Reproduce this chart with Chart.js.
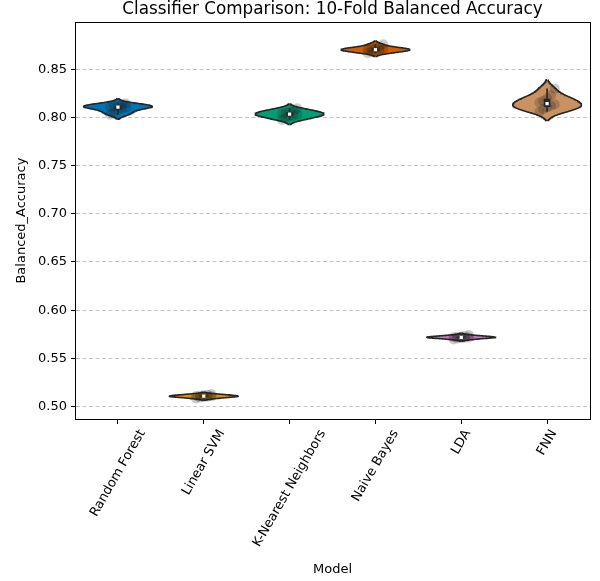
<!DOCTYPE html>
<html><head><meta charset="utf-8">
<script src="https://cdn.jsdelivr.net/npm/chart.js@4"></script>
<style>html,body{margin:0;padding:0;background:#fff}canvas{display:block}</style>
</head><body>
<canvas id="c" width="600" height="581"></canvas>
<script>
// ---- data ----
const models = ['Random Forest','Linear SVM','K-Nearest Neighbors','Naive Bayes','LDA','FNN'];
const colors = ['#0173B2','#DE8F05','#029E73','#D55E00','#CC78BC','#CA9161'];
const rfScores  = [0.8030,0.8050,0.8075,0.8095,0.8105,0.8112,0.8118,0.8123,0.8130,0.8148];
const svmScores = [0.5082,0.5092,0.5098,0.5102,0.5105,0.5108,0.5112,0.5117,0.5122,0.5130];
const knnScores = [0.7975,0.7995,0.8010,0.8022,0.8030,0.8040,0.8050,0.8060,0.8072,0.8095];
const nbScores  = [0.8668,0.8680,0.8690,0.8697,0.8703,0.8708,0.8714,0.8722,0.8732,0.8760];
const ldaScores = [0.5695,0.5705,0.5710,0.5714,0.5717,0.5720,0.5723,0.5727,0.5732,0.5742];
const fnnScores = [0.8060,0.8085,0.8105,0.8120,0.8135,0.8155,0.8175,0.8200,0.8230,0.8300];
const yTicks = [0.50,0.55,0.60,0.65,0.70,0.75,0.80,0.85];
const allScores = [rfScores,svmScores,knnScores,nbScores,ldaScores,fnnScores];

// ---- stats helpers ----
function kde(vals){
  const n=vals.length, mean=vals.reduce((a,b)=>a+b,0)/n;
  const sd=Math.sqrt(vals.reduce((a,b)=>a+(b-mean)**2,0)/(n-1));
  const bw=sd*Math.pow(n,-0.2);
  const lo=Math.min(...vals)-2*bw, hi=Math.max(...vals)+2*bw;
  const G=100, ys=[], ds=[];
  for(let g=0;g<G;g++){
    const y=lo+(hi-lo)*g/(G-1); let d=0;
    for(const v of vals) d+=Math.exp(-0.5*((y-v)/bw)**2);
    ys.push(y); ds.push(d);
  }
  return {ys,ds};
}
function quant(sorted,p){
  const idx=(sorted.length-1)*p, lo=Math.floor(idx), hi=Math.ceil(idx);
  return sorted[lo]+(sorted[hi]-sorted[lo])*(idx-lo);
}

const edge='#262626';
const datasets=[];
const halfW=0.4;
allScores.forEach((vals,i)=>{
  const {ys,ds}=kde(vals);
  const dmax=Math.max(...ds);
  const left=[{x:i,y:ys[0]}], right=[{x:i,y:ys[0]}];
  ys.forEach((y,g)=>{ left.push({x:i-halfW*ds[g]/dmax,y}); right.push({x:i+halfW*ds[g]/dmax,y}); });
  left.push({x:i,y:ys[ys.length-1]}); right.push({x:i,y:ys[ys.length-1]});
  datasets.push({data:left,borderColor:edge,borderWidth:1.6,pointRadius:0,fill:false,order:5,tension:0});
  datasets.push({data:right,borderColor:edge,borderWidth:1.6,pointRadius:0,fill:'-1',backgroundColor:colors[i],order:5,tension:0});
});
allScores.forEach((vals,i)=>{
  const s=[...vals].sort((a,b)=>a-b);
  const q1=quant(s,0.25), q3=quant(s,0.75), med=quant(s,0.5), iqr=q3-q1;
  const wlo=Math.min(...s.filter(v=>v>=q1-1.5*iqr)), whi=Math.max(...s.filter(v=>v<=q3+1.5*iqr));
  datasets.push({data:s.map((v,k)=>({x:i+((k%5)-2)*0.045,y:v})).sort((a,b)=>a.y-b.y),showLine:false,pointRadius:5,pointBorderWidth:0,pointBackgroundColor:'rgba(30,30,30,0.22)',order:4});
  datasets.push({data:[{x:i,y:wlo},{x:i,y:whi}],borderColor:edge,borderWidth:1.6,pointRadius:0,order:3});
  datasets.push({data:[{x:i,y:q1},{x:i,y:q3}],borderColor:edge,borderWidth:6.5,pointRadius:0,order:2,borderCapStyle:'butt'});
  datasets.push({data:[{x:i,y:med}],showLine:false,pointStyle:'rect',pointRadius:2.3,pointBorderWidth:0,pointBackgroundColor:'#ffffff',order:1});
});

const framePlugin={id:'frame',
  beforeDraw(chart){
    // centre the rotated x tick labels under their ticks (like ha='center')
    const sc=chart.scales.x, ctx=chart.ctx;
    const items=sc.getLabelItems();
    items.forEach(it=>{
      if(it._shifted) return;
      ctx.save(); ctx.font=it.font.string; const w=ctx.measureText(it.label).width; ctx.restore();
      it.options.translation[0]+=w*Math.cos(Math.PI/3)/2;
      it._shifted=true;
    });
  },
  afterDraw(chart){
    const a=chart.chartArea, ctx=chart.ctx;
    ctx.save(); ctx.strokeStyle='#000'; ctx.lineWidth=1;
    ctx.strokeRect(Math.round(a.left)+0.5,Math.round(a.top)+0.5,Math.round(a.right-a.left),Math.round(a.bottom-a.top));
    ctx.restore();
  }};

Chart.defaults.font.family='"DejaVu Sans", sans-serif';
Chart.defaults.color='#000';
new Chart(document.getElementById('c'),{
  type:'line',
  data:{datasets},
  plugins:[framePlugin],
  options:{
    indexAxis:'y',
    responsive:false,animation:false,
    parsing:{xAxisKey:'x',yAxisKey:'y'},
    layout:{padding:{left:8,right:10,top:0,bottom:4}},
    plugins:{
      legend:{display:false},tooltip:{enabled:false},
      title:{display:true,fullSize:false,text:'Classifier Comparison: 10-Fold Balanced Accuracy',font:{size:16.8,weight:'normal'},color:'#000',padding:{top:0,bottom:2}}
    },
    scales:{
      x:{type:'linear',min:-0.5,max:5.5,
        afterBuildTicks(s){s.ticks=models.map((m,i)=>({value:i}));},
        afterFit(s){s.height=581-419-4;},
        ticks:{autoSkip:false,minRotation:60,maxRotation:60,font:{size:13},color:'#000',padding:3,callback:(v)=>models[v]},
        grid:{drawOnChartArea:false,drawTicks:true,tickLength:5,tickColor:'#000'},
        border:{display:true,color:'#000',width:1},
        title:{display:true,text:'Model',font:{size:13},color:'#000',padding:{top:0,bottom:0}}
      },
      y:{type:'linear',min:0.487,max:0.899,
        afterBuildTicks(s){s.ticks=yTicks.map(v=>({value:v}));},
        afterFit(s){s.width=75-8;},
        ticks:{font:{size:13},color:'#000',padding:4,callback:(v)=>v.toFixed(2)},
        grid:{color:'#c4c4c4',lineWidth:1,drawTicks:true,tickLength:4,tickColor:'#000',tickBorderDash:[]},
        border:{display:true,color:'#000',width:1,dash:[4,2.5]},
        title:{display:true,text:'Balanced_Accuracy',font:{size:13},color:'#000',padding:{top:6,bottom:0}}
      }
    }
  }
});
</script>
</body></html>
